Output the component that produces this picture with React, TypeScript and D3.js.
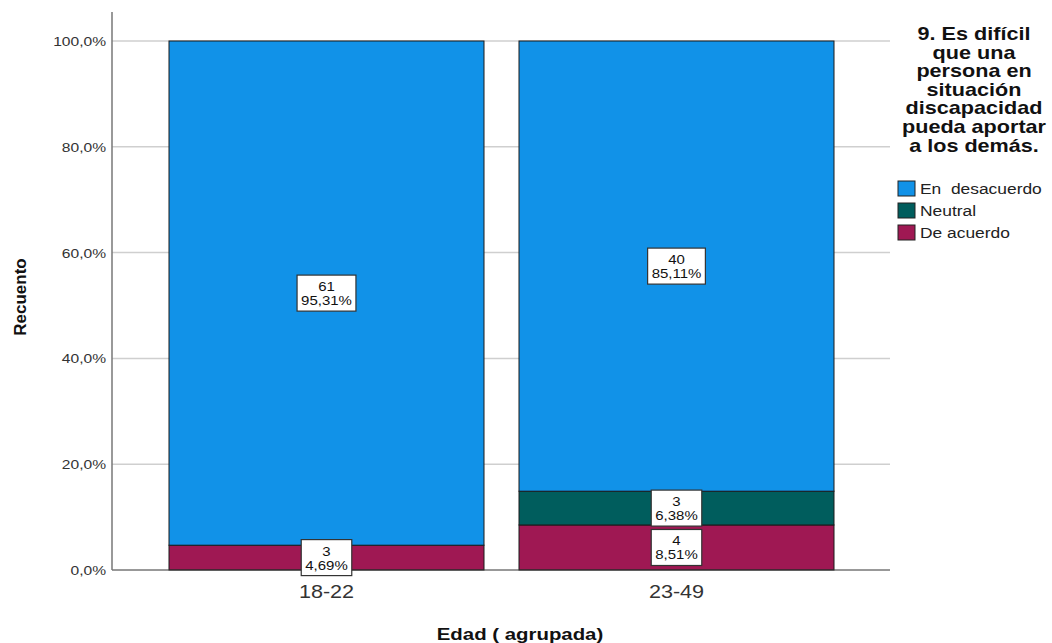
import React from "react";
import * as d3 from "d3";

const categories = ["18-22", "23-49"];
const seriesNames = ["De acuerdo", "Neutral", "En  desacuerdo"];
const seriesColors = ["#9f1853", "#005d5d", "#1192e8"];
const deAcuerdo = [3, 4];
const neutral = [0, 3];
const enDesacuerdo = [61, 40];
const yTicks = [0, 0.2, 0.4, 0.6, 0.8, 1.0];
const legendOrder = [2, 1, 0];
const legendTitle = ["9. Es difícil", "que una", "persona en", "situación", "discapacidad", "pueda aportar", "a los demás."];

const FONT = "'Liberation Sans', Arial, sans-serif";
const SX = 1.2;

function textWidth(t: string, size: number) {
  const c = document.createElement("canvas").getContext("2d");
  if (!c) return t.length * size * 0.55;
  c.font = `${size}px ${FONT}`;
  return c.measureText(t).width;
}

function HText(props: { x: number; y: number; size: number; anchor?: string; bold?: boolean; fill?: string; children: React.ReactNode }) {
  const { x, y, size, anchor = "start", bold, fill = "#222", children } = props;
  return (
    <text transform={`translate(${x},${y}) scale(${SX},1)`} textAnchor={anchor as any} fontSize={size}
      fontWeight={bold ? "bold" : "normal"} fill={fill} fontFamily={FONT} style={{ whiteSpace: "pre" }}>{children}</text>
  );
}

export default function App() {
  const W = 1052, H = 643;
  const left = 112, right = 890, top = 41, bottom = 570;
  const y = d3.scaleLinear().domain([0, 1]).range([bottom, top]);
  const x = d3.scaleBand().domain(categories).range([169, 834]).paddingInner(0.1).paddingOuter(0);
  const data = categories.map((c, i) => ({ cat: c, vals: [deAcuerdo[i], neutral[i], enDesacuerdo[i]] }));
  const fmt = (v: number) => (v * 100).toFixed(1).replace(".", ",") + "%";
  const fmt2 = (v: number) => (v * 100).toFixed(2).replace(".", ",") + "%";

  const bars: React.ReactNode[] = [];
  const labels: React.ReactNode[] = [];
  data.forEach((d, i) => {
    const total = d3.sum(d.vals);
    let cum = 0;
    d.vals.forEach((v, s) => {
      const p0 = cum / total;
      cum += v;
      const p1 = cum / total;
      if (v === 0) return;
      const bx = x(d.cat)!;
      bars.push(
        <rect key={`b${i}-${s}`} x={bx} y={y(p1)} width={x.bandwidth()} height={y(p0) - y(p1)}
          fill={seriesColors[s]} stroke="#1a1a1a" strokeWidth={1} />
      );
      const cx = bx + x.bandwidth() / 2;
      const cy = (y(p0) + y(p1)) / 2;
      const t2 = fmt2(v / total);
      const fs = 12.5;
      const w = Math.max(textWidth(t2, fs), textWidth(String(v), fs)) * SX + 8;
      const h = 36;
      labels.push(
        <g key={`l${i}-${s}`}>
          <rect x={cx - w / 2} y={cy - h / 2} width={w} height={h} fill="#fff" stroke="#333" strokeWidth={1.2} />
          <HText x={cx} y={cy - 2} size={fs} anchor="middle" fill="#111">{v}</HText>
          <HText x={cx} y={cy + 12} size={fs} anchor="middle" fill="#111">{t2}</HText>
        </g>
      );
    });
  });

  return (
    <svg width={W} height={H} style={{ position: "absolute", left: 0, top: 0 }} fontFamily={FONT}>
      <rect width={W} height={H} fill="#fff" />
      {yTicks.map((t) => (
        <g key={t}>
          {t > 0 && <line x1={left} x2={right} y1={y(t)} y2={y(t)} stroke="#cfcfcf" strokeWidth={1.5} />}
          <HText x={106} y={y(t) + 5} size={13} anchor="end" fill="#333">{fmt(t)}</HText>
        </g>
      ))}
      {bars}
      <line x1={left} x2={right} y1={bottom} y2={bottom} stroke="#333" strokeWidth={1} />
      <line x1={left} x2={left} y1={12} y2={bottom} stroke="#777" strokeWidth={1.5} />
      {labels}
      {categories.map((c) => (
        <HText key={c} x={x(c)! + x.bandwidth() / 2} y={598} size={18} anchor="middle" fill="#333">{c}</HText>
      ))}
      <HText x={520} y={640} size={17} anchor="middle" bold fill="#111">Edad ( agrupada)</HText>
      <text transform="translate(26,297) rotate(-90)" textAnchor="middle" fontSize={17} fontWeight="bold" fill="#111">Recuento</text>
      {legendTitle.map((l, i) => (
        <HText key={l} x={974} y={40 + i * 18.6} size={18} anchor="middle" bold fill="#111">{l}</HText>
      ))}
      {legendOrder.map((s, i) => (
        <g key={s}>
          <rect x={898} y={181 + i * 22} width={17} height={15} fill={seriesColors[s]} stroke="#222" strokeWidth={1} />
          <HText x={920} y={194 + i * 22} size={14.5} fill="#222">{seriesNames[s]}</HText>
        </g>
      ))}
    </svg>
  );
}
